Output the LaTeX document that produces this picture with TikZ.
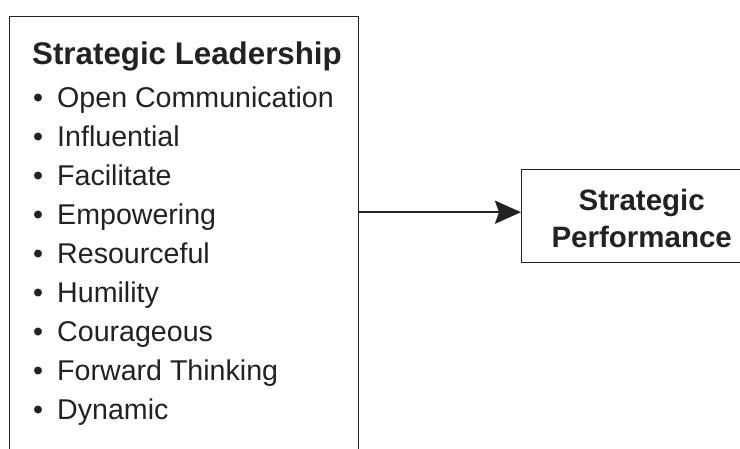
\documentclass[tikz,border=0pt]{standalone}
\usepackage{fontspec}
\setmainfont{Liberation Sans}
\usetikzlibrary{matrix, positioning, arrows.meta}

\definecolor{ink}{HTML}{222222}

\begin{document}
\begin{tikzpicture}[x=1pt, y=-1pt,
  frame/.style={draw=ink, line width=1.4pt, inner sep=0pt},
  heading/.style={font=\fontsize{31.3}{37}\selectfont\bfseries, text=ink, inner sep=0pt},
  trait/.style={font=\fontsize{28.6}{34}\selectfont, text=ink, inner sep=0pt,
    text height=21pt, text depth=6pt}
]

\useasboundingbox (0,0) rectangle (740,449);

% left box runs past the bottom edge
\node (leader) [frame, anchor=north west,
  minimum width=349pt, minimum height=470pt] at (9,16) {};

\node (title) [heading, anchor=base west] at (32,65) {Strategic Leadership};

\matrix (traits) [
  matrix of nodes,
  anchor=north west,
  inner sep=0pt,
  row sep=12.1pt,
  column sep=14pt,
  nodes={trait, anchor=west}
] at (33,86)
{
  • & Open Communication \\
  • & Influential \\
  • & Facilitate \\
  • & Empowering \\
  • & Resourceful \\
  • & Humility \\
  • & Courageous \\
  • & Forward Thinking \\
  • & Dynamic \\
};

\node (perf) [frame, anchor=north west, align=center,
  minimum width=240pt, minimum height=93pt,
  font=\fontsize{29.5}{37}\selectfont\bfseries, text=ink] at (521,169)
  {\rule{0pt}{26.5pt}Strategic\\Performance};

\draw [ink, line width=2.6pt, -{Stealth[length=26pt, width=23pt, inset=4pt]}]
  ([yshift=4pt]leader.east |- perf.west) -- ([yshift=4pt]perf.west);

\end{tikzpicture}
\end{document}
